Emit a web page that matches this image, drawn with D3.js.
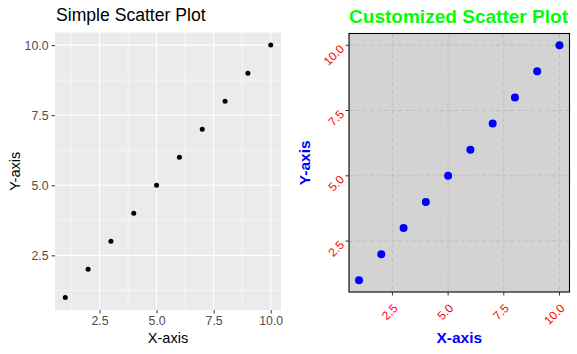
<!DOCTYPE html>
<html>
<head>
<meta charset="utf-8">
<script src="https://cdn.jsdelivr.net/npm/d3@7"></script>
<style>
  body { margin: 0; background: #fff; }
  text { font-family: "Liberation Sans", Arial, sans-serif; }
</style>
</head>
<body>
<div id="chart"></div>
<script>
const xValues = [1, 2, 3, 4, 5, 6, 7, 8, 9, 10];
const yValues = [1, 2, 3, 4, 5, 6, 7, 8, 9, 10];
const majorTicks = [2.5, 5.0, 7.5, 10.0];
const minorTicks = [1.25, 3.75, 6.25, 8.75];
const domain = [0.55, 10.45];

const points = xValues.map((x, i) => ({ x: x, y: yValues[i] }));
const fmt = d3.format(".1f");

const svg = d3.select("#chart")
  .append("svg")
  .attr("width", 577)
  .attr("height", 354);

/* Left: simple scatter */
function drawSimple() {
  const left = 55, right = 281, top = 32.5, bottom = 310;
  const x = d3.scaleLinear().domain(domain).range([left, right]);
  const y = d3.scaleLinear().domain(domain).range([bottom, top]);
  const g = svg.append("g");

  g.append("rect")
    .attr("x", left).attr("y", top)
    .attr("width", right - left).attr("height", bottom - top)
    .attr("fill", "#EBEBEB");

  // minor grid
  g.selectAll(".minx").data(minorTicks).join("line")
    .attr("x1", d => x(d)).attr("x2", d => x(d))
    .attr("y1", top).attr("y2", bottom)
    .attr("stroke", "#fff").attr("stroke-width", 0.55);
  g.selectAll(".miny").data(minorTicks).join("line")
    .attr("y1", d => y(d)).attr("y2", d => y(d))
    .attr("x1", left).attr("x2", right)
    .attr("stroke", "#fff").attr("stroke-width", 0.55);
  // major grid
  g.selectAll(".majx").data(majorTicks).join("line")
    .attr("x1", d => x(d)).attr("x2", d => x(d))
    .attr("y1", top).attr("y2", bottom)
    .attr("stroke", "#fff").attr("stroke-width", 1.1);
  g.selectAll(".majy").data(majorTicks).join("line")
    .attr("y1", d => y(d)).attr("y2", d => y(d))
    .attr("x1", left).attr("x2", right)
    .attr("stroke", "#fff").attr("stroke-width", 1.1);

  // axes
  const xAxis = g.append("g")
    .attr("transform", `translate(0,${bottom})`)
    .call(d3.axisBottom(x).tickValues(majorTicks).tickFormat(fmt).tickSize(3.5).tickPadding(2.5));
  const yAxis = g.append("g")
    .attr("transform", `translate(${left},0)`)
    .call(d3.axisLeft(y).tickValues(majorTicks).tickFormat(fmt).tickSize(3.5).tickPadding(3));
  [xAxis, yAxis].forEach(a => {
    a.select(".domain").remove();
    a.selectAll(".tick line").attr("stroke", "#333");
    a.selectAll("text").attr("fill", "#4D4D4D")
      .style("font-size", "12.3px").style("font-family", "Liberation Sans, Arial, sans-serif");
  });

  g.selectAll("circle").data(points).join("circle")
    .attr("cx", d => x(d.x)).attr("cy", d => y(d.y))
    .attr("r", 2.5).attr("fill", "#000");

  g.append("text")
    .attr("x", left + 1).attr("y", 21)
    .style("font-size", "17.6px")
    .text("Simple Scatter Plot");
  g.append("text")
    .attr("x", (left + right) / 2).attr("y", 343)
    .attr("text-anchor", "middle")
    .style("font-size", "14.5px")
    .text("X-axis");
  g.append("text")
    .attr("transform", `translate(19.5,${(top + bottom) / 2}) rotate(-90)`)
    .attr("text-anchor", "middle")
    .style("font-size", "14.5px")
    .text("Y-axis");
}

/* Right: customized scatter */
function drawCustom() {
  const left = 349, right = 569.5, top = 33.5, bottom = 292;
  const x = d3.scaleLinear().domain(domain).range([left, right]);
  const y = d3.scaleLinear().domain(domain).range([bottom, top]);
  const g = svg.append("g");

  g.append("rect")
    .attr("x", left).attr("y", top)
    .attr("width", right - left).attr("height", bottom - top)
    .attr("fill", "#D3D3D3");

  g.selectAll(".gx").data(majorTicks).join("line")
    .attr("x1", d => x(d)).attr("x2", d => x(d))
    .attr("y1", top).attr("y2", bottom)
    .attr("stroke", "#BEBEBE").attr("stroke-width", 1)
    .attr("stroke-dasharray", "4,3");
  g.selectAll(".gy").data(majorTicks).join("line")
    .attr("y1", d => y(d)).attr("y2", d => y(d))
    .attr("x1", left).attr("x2", right)
    .attr("stroke", "#BEBEBE").attr("stroke-width", 1)
    .attr("stroke-dasharray", "4,3");

  g.selectAll("circle").data(points).join("circle")
    .attr("cx", d => x(d.x)).attr("cy", d => y(d.y))
    .attr("r", 4).attr("fill", "#0000FF");

  g.append("rect")
    .attr("x", left).attr("y", top)
    .attr("width", right - left).attr("height", bottom - top)
    .attr("fill", "none").attr("stroke", "#000").attr("stroke-width", 1.1);

  // tick marks
  g.selectAll(".tx").data(majorTicks).join("line")
    .attr("x1", d => x(d)).attr("x2", d => x(d))
    .attr("y1", bottom).attr("y2", bottom + 3.5)
    .attr("stroke", "#333");
  g.selectAll(".ty").data(majorTicks).join("line")
    .attr("y1", d => y(d)).attr("y2", d => y(d))
    .attr("x1", left - 3.5).attr("x2", left)
    .attr("stroke", "#333");

  // rotated tick labels
  g.selectAll(".lx").data(majorTicks).join("text")
    .attr("transform", d => `translate(${x(d) + 6},${bottom + 17}) rotate(-45)`)
    .attr("text-anchor", "end")
    .attr("fill", "#FF0000")
    .style("font-size", "12px")
    .text(fmt);
  g.selectAll(".ly").data(majorTicks).join("text")
    .attr("transform", d => `translate(${left - 4},${y(d) + 4.5}) rotate(-45)`)
    .attr("text-anchor", "end")
    .attr("fill", "#FF0000")
    .style("font-size", "12px")
    .text(fmt);

  g.append("text")
    .attr("x", left).attr("y", 23)
    .attr("fill", "#00FF00")
    .attr("textLength", 219)
    .attr("lengthAdjust", "spacingAndGlyphs")
    .style("font-size", "19px").style("font-weight", "bold")
    .text("Customized Scatter Plot");
  g.append("text")
    .attr("x", (left + right) / 2).attr("y", 343)
    .attr("text-anchor", "middle")
    .attr("fill", "#0000FF")
    .style("font-size", "15.5px").style("font-weight", "bold")
    .text("X-axis");
  g.append("text")
    .attr("transform", `translate(310,${(top + bottom) / 2}) rotate(-90)`)
    .attr("text-anchor", "middle")
    .attr("fill", "#0000FF")
    .style("font-size", "15.5px").style("font-weight", "bold")
    .text("Y-axis");
}

drawSimple();
drawCustom();
</script>
</body>
</html>
